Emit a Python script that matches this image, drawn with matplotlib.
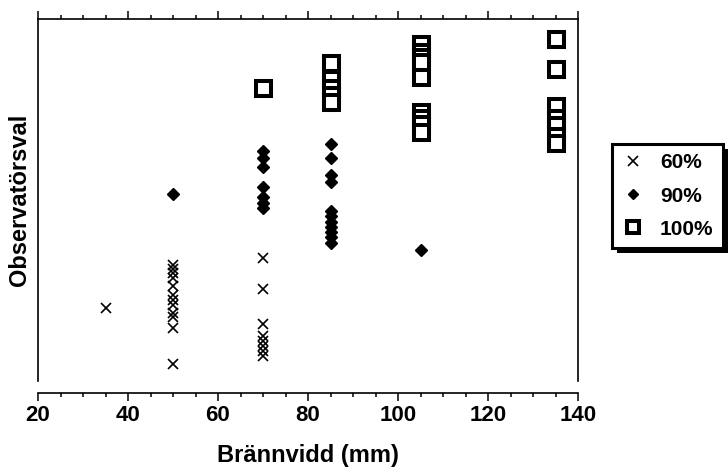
import matplotlib
matplotlib.use('Agg')
import matplotlib.pyplot as plt
from matplotlib.lines import Line2D
from matplotlib.patches import Rectangle
from matplotlib.ticker import MultipleLocator

plt.rcParams['font.family'] = ['Liberation Sans', 'DejaVu Sans']
plt.rcParams['font.weight'] = 'bold'

# focal length (mm) and observer choice score, one list per aperture setting
focal_60 = [35, 50, 50, 50, 50, 50, 50, 50, 50, 50, 50, 50, 50,
            70, 70, 70, 70, 70, 70, 70, 70]
score_60 = [20.2, 32.0, 30.9, 29.8, 28.5, 26.2, 23.8, 22.4, 21.0, 18.8, 17.7, 14.6, 4.7,
            34.0, 25.4, 15.7, 12.4, 11.0, 9.7, 8.3, 6.9]

focal_90 = [50, 70, 70, 70, 70, 70, 70, 70,
            85, 85, 85, 85, 85, 85, 85, 85, 85, 85, 85, 105]
score_90 = [51.7, 63.5, 61.6, 59.1, 53.6, 50.8, 49.2, 47.8,
            65.5, 61.6, 56.9, 55.0, 47.0, 45.6, 43.9, 42.5, 41.2, 39.8, 38.1, 36.2]

focal_100 = [70, 85, 85, 85, 85, 85,
             105, 105, 105, 105, 105, 105, 105, 105, 105,
             135, 135, 135, 135, 135, 135, 135]
score_100 = [81.0, 87.8, 83.4, 80.9, 79.0, 77.1,
             93.0, 90.9, 89.5, 88.1, 84.0, 74.3, 72.7, 71.0, 68.8,
             94.5, 86.2, 76.0, 72.7, 70.7, 67.7, 65.7]

labels = ['60%', '90%', '100%']

fig = plt.figure(figsize=(7.28, 4.75), dpi=100)
ax = fig.add_axes([38 / 728, 1 - 381 / 475, 540 / 728, 362 / 475])

ax.plot(focal_60, score_60, 'x', color='black', ms=7.5, mew=1.2, linestyle='none')
ax.plot(focal_90, score_90, 'D', color='black', ms=6, mew=1, linestyle='none')
ax.plot(focal_100, score_100, 's', mfc='white', mec='black', ms=10.8, mew=2.9,
        linestyle='none')

ax.set_xlim(20, 140)
ax.set_ylim(0, 100)
ax.set_yticks([])
ax.xaxis.set_major_locator(MultipleLocator(20))
ax.xaxis.set_minor_locator(MultipleLocator(5))
ax.tick_params(axis='x', which='both', direction='out', top=True, bottom=True,
               width=1.1, color='black')
ax.tick_params(axis='x', which='major', length=6, labelsize=16, pad=3)
ax.tick_params(axis='x', which='minor', length=3)

for s in ax.spines.values():
    s.set_linewidth(1.2)
    s.set_color('black')
ax.spines['bottom'].set_position(('outward', 8.5))

ax.set_xlabel('Brännvidd (mm)', fontsize=17, fontweight='bold', labelpad=13)
ax.set_ylabel('Observatörsval', fontsize=17, fontweight='bold', labelpad=5)

handles = [
    Line2D([], [], marker='x', color='black', ms=7, mew=1.2, linestyle='none'),
    Line2D([], [], marker='D', color='black', ms=5.5, mew=1, linestyle='none'),
    Line2D([], [], marker='s', mfc='white', mec='black', ms=8, mew=2.9, linestyle='none'),
]
leg = fig.legend(handles, labels, loc='center left',
                 bbox_to_anchor=(612 / 728, 1 - 196 / 475),
                 frameon=True, fancybox=False, edgecolor='black',
                 facecolor='white', framealpha=1,
                 prop={'size': 15, 'weight': 'bold'},
                 handlelength=1.1, handletextpad=0.75, labelspacing=0.68,
                 borderpad=0.45, borderaxespad=0)
leg.get_frame().set_linewidth(2.2)
leg.set_zorder(5)

# solid drop shadow behind the legend box
fig.canvas.draw()
bb = leg.get_window_extent()
shadow = Rectangle((bb.x0 + 5, bb.y0 - 5), bb.width, bb.height, transform=None,
                   facecolor='black', edgecolor='none', zorder=4)
fig.add_artist(shadow)

fig.savefig('out.png', dpi=100)
